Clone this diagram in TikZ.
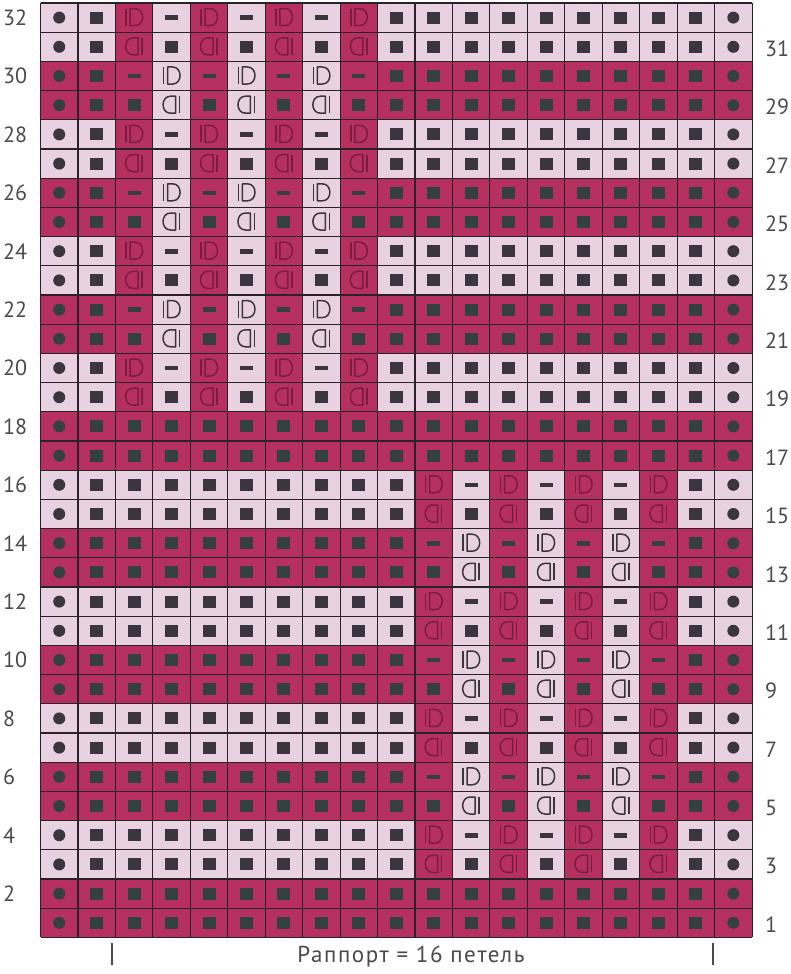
\documentclass[tikz,border=0pt]{standalone}
\usepackage{fontspec}
\setmainfont{PT Sans}
\definecolor{pinkD}{HTML}{B5305F}
\definecolor{pinkL}{HTML}{E8D2E2}
\definecolor{symgray}{HTML}{3A3540}
\definecolor{symdark}{HTML}{33403F}
\definecolor{cableD}{HTML}{7A1C42}
\definecolor{gridc}{HTML}{2A2228}
\definecolor{labelc}{HTML}{4A4A4A}
\newcommand\kcw{37.45}
\newcommand\kch{29.2}
\tikzset{
  bgL/.style={fill=pinkL}, bgD/.style={fill=pinkD},
  blkL/.style={fill=symgray}, blkD/.style={fill=symdark},
  cabL/.style={draw=symgray, line width=1.5pt, line join=round},
  cabD/.style={draw=cableD, line width=1.5pt, line join=round},
  gridline/.style={draw=gridc, line width=1.1pt},
  rowlbl/.style={font=\fontsize{22}{22}\selectfont, text=labelc, inner sep=0pt},
}
\def\knitcell#1#2\relax#3#4{%
  \pgfmathsetmacro\cx{40.5+(#3-0.5)*\kcw}%
  \pgfmathsetmacro\cy{3+(32-#4+0.5)*\kch}%
  \def\kbg{#1}%
  \fill[bg#1] (\cx-\kcw/2,\cy-\kch/2) rectangle (\cx+\kcw/2,\cy+\kch/2);%
  \csname ksym#2\endcsname}
\newcommand\ksyms{\fill[blk\kbg] (\cx-6.5,\cy-6) rectangle (\cx+6.5,\cy+6);}
\newcommand\ksymm{\fill[blk\kbg] (\cx-6.5,\cy-2.3) rectangle (\cx+6.5,\cy+2.3);}
\newcommand\ksymo{\fill[blk\kbg] (\cx,\cy) circle (6);}
\newcommand\ksymi{\draw[cab\kbg] (\cx-8,\cy-9) -- (\cx-8,\cy+8);
  \draw[cab\kbg] (\cx-4,\cy-9) -- (\cx+1,\cy-9) .. controls (\cx+11,\cy-9) and (\cx+11,\cy+8) .. (\cx+1,\cy+8) -- (\cx-4,\cy+8) -- cycle;}
\newcommand\ksyma{\draw[cab\kbg] (\cx+8,\cy-9) -- (\cx+8,\cy+8);
  \draw[cab\kbg] (\cx+4,\cy-9) -- (\cx-1,\cy-9) .. controls (\cx-11,\cy-9) and (\cx-11,\cy+8) .. (\cx-1,\cy+8) -- (\cx+4,\cy+8) -- cycle;}
\newcommand\knitrow[2]{\foreach[count=\kc] \kt in #2 {\expandafter\knitcell\kt\relax{\kc}{#1}}}
\def\rowA{Lo,Ls,Di,Lm,Di,Lm,Di,Lm,Di,Ls,Ls,Ls,Ls,Ls,Ls,Ls,Ls,Ls,Lo}
\def\rowB{Lo,Ls,Da,Ls,Da,Ls,Da,Ls,Da,Ls,Ls,Ls,Ls,Ls,Ls,Ls,Ls,Ls,Lo}
\def\rowC{Do,Ds,Dm,Li,Dm,Li,Dm,Li,Dm,Ds,Ds,Ds,Ds,Ds,Ds,Ds,Ds,Ds,Do}
\def\rowE{Do,Ds,Ds,La,Ds,La,Ds,La,Ds,Ds,Ds,Ds,Ds,Ds,Ds,Ds,Ds,Ds,Do}
\def\rowP{Do,Ds,Ds,Ds,Ds,Ds,Ds,Ds,Ds,Ds,Ds,Ds,Ds,Ds,Ds,Ds,Ds,Ds,Do}
\def\rowF{Lo,Ls,Ls,Ls,Ls,Ls,Ls,Ls,Ls,Ls,Di,Lm,Di,Lm,Di,Lm,Di,Ls,Lo}
\def\rowG{Lo,Ls,Ls,Ls,Ls,Ls,Ls,Ls,Ls,Ls,Da,Ls,Da,Ls,Da,Ls,Da,Ls,Lo}
\def\rowH{Do,Ds,Ds,Ds,Ds,Ds,Ds,Ds,Ds,Ds,Dm,Li,Dm,Li,Dm,Li,Dm,Ds,Do}
\def\rowK{Do,Ds,Ds,Ds,Ds,Ds,Ds,Ds,Ds,Ds,Ds,La,Ds,La,Ds,La,Ds,Ds,Do}
\begin{document}
\begin{tikzpicture}[x=1pt,y=-1pt]
\fill[white] (0,0) rectangle (790,974);
\useasboundingbox (0,0) rectangle (790,974);
\knitrow{32}{\rowA}\knitrow{31}{\rowB}\knitrow{30}{\rowC}\knitrow{29}{\rowE}
\knitrow{28}{\rowA}\knitrow{27}{\rowB}\knitrow{26}{\rowC}\knitrow{25}{\rowE}
\knitrow{24}{\rowA}\knitrow{23}{\rowB}\knitrow{22}{\rowC}\knitrow{21}{\rowE}
\knitrow{20}{\rowA}\knitrow{19}{\rowB}\knitrow{18}{\rowP}\knitrow{17}{\rowP}
\knitrow{16}{\rowF}\knitrow{15}{\rowG}\knitrow{14}{\rowH}\knitrow{13}{\rowK}
\knitrow{12}{\rowF}\knitrow{11}{\rowG}\knitrow{10}{\rowH}\knitrow{9}{\rowK}
\knitrow{8}{\rowF}\knitrow{7}{\rowG}\knitrow{6}{\rowH}\knitrow{5}{\rowK}
\knitrow{4}{\rowF}\knitrow{3}{\rowG}\knitrow{2}{\rowP}\knitrow{1}{\rowP}
\foreach \i in {0,...,19} \draw[gridline] (40.5+\i*\kcw,3) -- (40.5+\i*\kcw,937.4);
\foreach \j in {0,...,32} \draw[gridline] (40.5,3+\j*\kch) -- (752.05,3+\j*\kch);
\foreach \r in {2,4,...,32} \node[rowlbl,anchor=west] (L\r) at (3,{3+(32-\r+0.5)*\kch}) {\r};
\foreach \r in {1,3,...,31} \node[rowlbl,anchor=west] (R\r) at (765,{5+(32-\r+0.5)*\kch}) {\r};
\node[rowlbl,font=\fontsize{23}{23}\selectfont\addfontfeatures{LetterSpace=7}] (rap) at (411,957) {Раппорт = 16 петель};
\coordinate (m1a) at (112,943); \coordinate (m1b) at (112,965);
\coordinate (m2a) at (713,943); \coordinate (m2b) at (713,965);
\draw[labelc,line width=1.3pt] (m1a) -- (m1b);
\draw[labelc,line width=1.3pt] (m2a) -- (m2b);
\end{tikzpicture}
\end{document}
